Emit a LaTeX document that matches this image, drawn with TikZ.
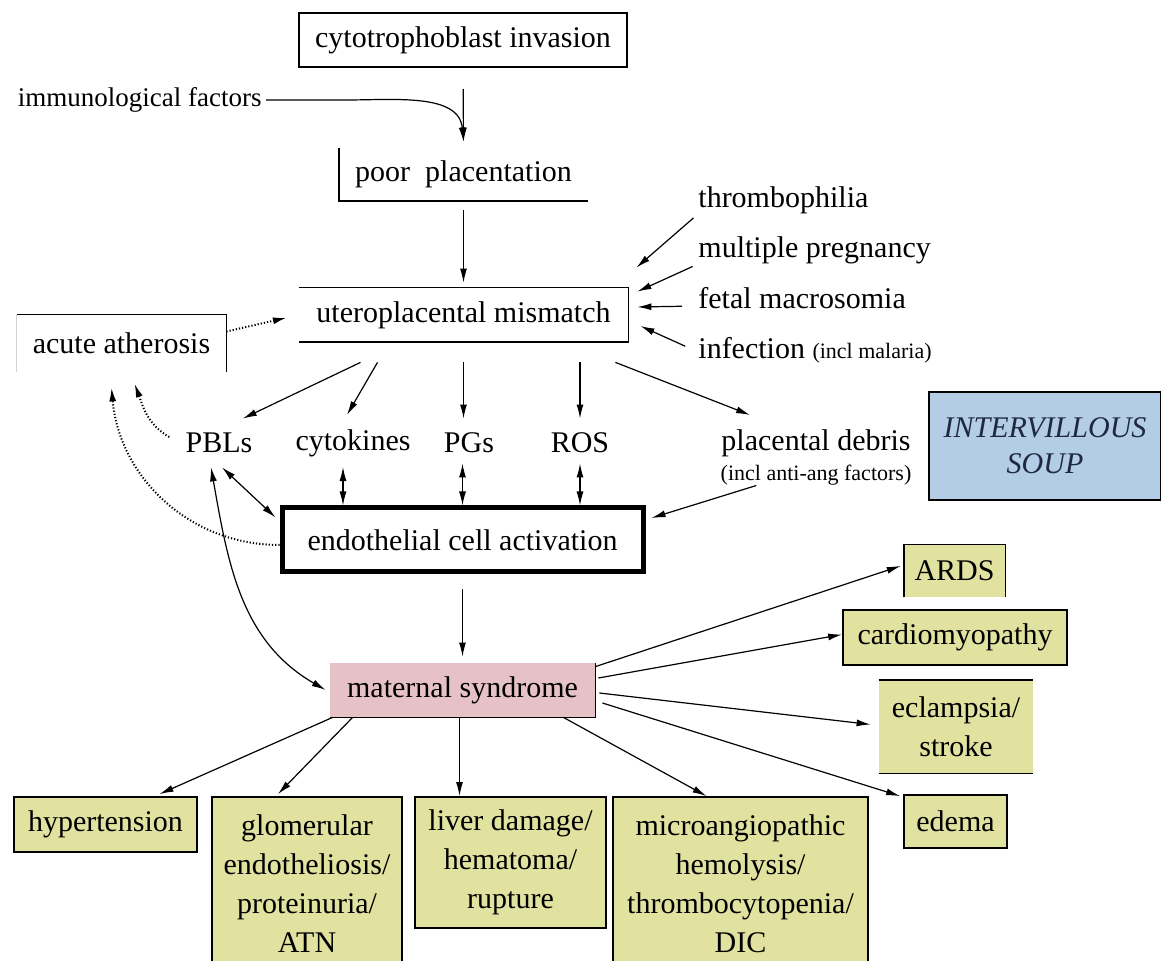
\documentclass[tikz,border=0pt]{standalone}
\usepackage{fontspec}
\setmainfont{Liberation Serif}
\usetikzlibrary{arrows.meta}
\definecolor{khaki}{RGB}{225,225,160}
\definecolor{rosy}{RGB}{230,194,198}
\definecolor{soupblue}{RGB}{180,205,230}
\definecolor{soupink}{RGB}{30,40,62}
\begin{document}
\begin{tikzpicture}[x=0.5pt,y=-0.5pt,font=\fontsize{15}{19.5}\selectfont,
            every node/.style={inner sep=0pt,align=center},
            frame/.style={line width=0.9pt},
            outbox/.style={fill=khaki,draw,line width=0.9pt},
            arr/.style={-{Latex[length=7pt,width=3.5pt]},line width=0.6pt},
            both/.style={{Latex[length=7pt,width=3.5pt]}-{Latex[length=7pt,width=3.5pt]},line width=0.6pt},
            dotarr/.style={arr,densely dotted,line width=1pt},
            small/.style={font=\fontsize{11}{13}\selectfont}]
            \useasboundingbox[fill=white](0,0)rectangle(1161,961);
            \node[draw,frame,minimum width=164pt,minimum height=27pt] (cyto) at (463,40) {cytotrophoblast invasion};
            \node[anchor=east,font=\fontsize{13.5}{16}\selectfont] (immuno) at (262,100) {immunological factors};
            \node[minimum width=124.5pt,minimum height=26.5pt] (poor) at (463.5,174.5) {poor\ \ placentation};
            \node[minimum width=164.5pt,minimum height=27pt] (utero) at (463.5,315) {uteroplacental mismatch};
            \node[minimum width=104.5pt,minimum height=28.5pt] (acute) at (121.5,343.5) {acute atherosis};
            \foreach \n/\t/\y in {thromb/thrombophilia/200,multiple/multiple pregnancy/250,fetal/fetal macrosomia/298,infection/{infection {\fontsize{11}{13}\selectfont(incl malaria)}}/350}
            \node[anchor=west] (\n) at (698,\y) {\t};
            \foreach \n/\t/\x in {pbl/PBLs/219,cytok/cytokines/353,pgs/PGs/469,ros/ROS/580,debris/placental debris/816}
            \node (\n) at (\x,443) {\t};
            \node[small] (debrisnote) at (816,475) {(incl anti-ang factors)};
            \node[fill=soupblue,draw,frame,minimum width=116pt,minimum height=54pt,text=soupink,font=\fontsize{15}{18}\selectfont\itshape] (soup) at (1045,446) {INTERVILLOUS\\SOUP};
            \node[draw,line width=2.5pt,minimum width=180.5pt,minimum height=32pt] (endo) at (462.5,540) {endothelial cell activation};
            \node[fill=rosy,minimum width=132.5pt,minimum height=27pt] (maternal) at (462.5,690) {maternal syndrome};
            \node[fill=khaki,minimum width=50.5pt,minimum height=26pt] (ards) at (954.5,571) {ARDS};
            \node[outbox,minimum width=112pt,minimum height=27.5pt] (cardio) at (955,637.5) {cardiomyopathy};
            \node[fill=khaki,minimum width=77pt,minimum height=46.5pt] (eclampsia) at (956,726.5) {eclampsia/\\stroke};
            \node[outbox,minimum width=51.5pt,minimum height=26.5pt] (edema) at (955.5,821.5) {edema};
            \node[outbox,minimum width=91.5pt,minimum height=27.5pt] (hyper) at (105.5,824.5) {hypertension};
            \node[outbox,minimum width=95pt,minimum height=87pt] (glom) at (307,884) {glomerular\\endotheliosis/\\proteinuria/\\ATN};
            \node[outbox,minimum width=95.5pt,minimum height=65.5pt] (liver) at (510.5,862.5) {liver damage/\\hematoma/\\rupture};
            \node[outbox,minimum width=127.5pt,minimum height=87pt] (micro) at (740.5,884) {microangiopathic\\hemolysis/\\thrombocytopenia/\\DIC};
            \draw[frame] (poor.north west)--(poor.south west)--(poor.south east);
            \draw[frame] (utero.north west)--(utero.north east)--(utero.south east)--(utero.south west);
            \draw[frame] (acute.north west)--(acute.north east)--(acute.south east);
            \draw[gray!35] (acute.north west)--(acute.south west);
            \draw[frame] (maternal.north east)--(maternal.south east)--(maternal.south west);
            \draw[frame] (ards.south west)--(ards.north west)--(ards.north east)--(ards.south east);
            \draw[frame] (eclampsia.north west)--(eclampsia.north east) (eclampsia.south west)--(eclampsia.south east);
            \draw[arr,shorten <=10.5pt] (cyto.south)--([yshift=3pt]poor.north);
            \draw[arr] ([xshift=2pt]immuno.east)--++(80,0) to[out=0,in=95] ([yshift=3pt]poor.north);
            \draw[arr,shorten <=4.5pt,shorten >=2.5pt] (poor.south)--(utero.north);
            \draw[arr,shorten <=3pt] (thromb.south west)--([shift={(4pt,10pt)}]utero.north east);
            \draw[arr,shorten <=3pt] (multiple.south west)--([shift={(4.5pt,-2pt)}]utero.north east);
            \draw[arr,shorten <=8pt] ([yshift=-4pt]fetal.west)--([shift={(4.5pt,4pt)}]utero.east);
            \draw[arr,shorten <=7pt] ([yshift=-1pt]infection.west)--([shift={(6pt,-5.5pt)}]utero.east);
            \draw[dotarr,shorten >=6pt] ([yshift=6pt]acute.east)--(utero.west);
            \draw[arr] ([shift={(-51.5pt,-10pt)}]utero.south)--([shift={(-5pt,7pt)}]pbl.north east);
            \draw[arr] ([shift={(-43pt,-10pt)}]utero.south)--([shift={(-3pt,7pt)}]cytok.north);
            \draw[arr] ([yshift=-10pt]utero.south)--([yshift=7pt]utero.south |- pgs.north);
            \draw[arr] ([yshift=-10pt]utero.south -| ros.north)--([yshift=7pt]ros.north);
            \draw[arr] ([shift={(-6.5pt,-10pt)}]utero.south east)--([shift={(14.5pt,7pt)}]debris.north west);
            \draw[both] ([shift={(-5pt,-5pt)}]cytok.south)--([xshift=-5pt]cytok.south |- endo.north);
            \draw[both] ([yshift=-5pt]pgs.south -| endo.north)--(endo.north);
            \draw[both] ([yshift=-5pt]ros.south)--(ros.south |- endo.north);
            \draw[both] ([shift={(1.5pt,-7pt)}]pbl.south)--([shift={(-2pt,-6pt)}]endo.north west);
            \draw[arr] ([xshift=18pt]debrisnote.south west)--([shift={(3pt,11pt)}]endo.east);
            \draw[both] ([shift={(-4pt,-7pt)}]pbl.south) to[out=-80,in=150] ([xshift=-2pt]maternal.west);
            \draw[dotarr] ([shift={(-8pt,3pt)}]pbl.west) to[out=150,in=-70] ([shift={(6.5pt,-5.5pt)}]acute.south);
            \draw[dotarr] ([yshift=-2.5pt]endo.west) to[out=180,in=-85] ([shift={(-5pt,-7.5pt)}]acute.south);
            \draw[arr,shorten <=7.5pt,shorten >=3pt] (endo.south)--(maternal.north);
            \draw[arr,shorten >=1.5pt] ([yshift=-2pt]maternal.north east)--([yshift=3pt]ards.west);
            \draw[arr] ([shift={(1.5pt,6pt)}]maternal.east)--([yshift=1.5pt]cardio.west);
            \draw[arr] ([shift={(2pt,-1.5pt)}]maternal.east)--([shift={(-4pt,1pt)}]eclampsia.west);
            \draw[arr] ([shift={(3.5pt,-6.5pt)}]maternal.east)--([shift={(-1.5pt,-1pt)}]edema.north west);
            \draw[arr] ([xshift=1.5pt]maternal.south west)--([shift={(27pt,1pt)}]hyper.north);
            \draw[arr] ([xshift=11.5pt]maternal.south west)--([shift={(-14.5pt,1pt)}]glom.north);
            \draw[arr] ([xshift=-1.5pt]maternal.south)--([xshift=-1.5pt]maternal.south |- liver.north);
            \draw[arr] ([xshift=-16pt]maternal.south east)--([xshift=-17pt]micro.north);
\end{tikzpicture}
\end{document}
